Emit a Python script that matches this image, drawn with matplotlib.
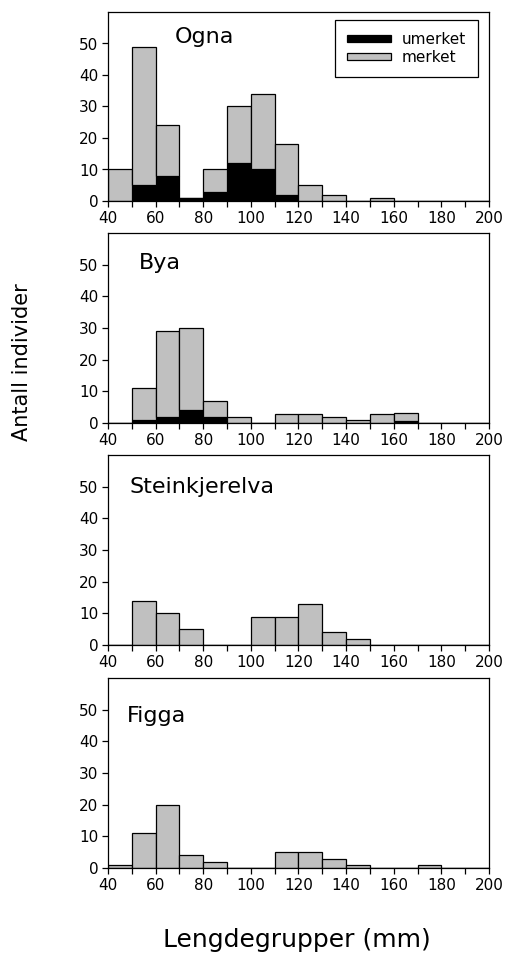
import numpy as np
import matplotlib
matplotlib.use('Agg')
import matplotlib.pyplot as plt

# --- DATA ---
bin_left = [40, 50, 60, 70, 80, 90, 100, 110, 120, 130, 140, 150, 160, 170, 180, 190]
sites = ['Ogna', 'Bya', 'Steinkjerelva', 'Figga']

# total per length group (umerket + merket)
ogna_total = [10, 49, 24, 1, 10, 30, 34, 18, 5, 2, 0, 1, 0, 0, 0, 0]
ogna_umerket = [0, 5, 8, 1, 3, 12, 10, 2, 0, 0, 0, 0, 0, 0, 0, 0]
bya_total = [0, 11, 29, 30, 7, 2, 0, 3, 3, 2, 1, 3, 3, 0, 0, 0]
bya_umerket = [0, 1, 2, 4, 2, 0, 0, 0, 0, 0, 0, 0, 0.7, 0, 0, 0]
steink_total = [0, 14, 10, 5, 0, 0, 9, 9, 13, 4, 2, 0, 0, 0, 0, 0]
steink_umerket = [0] * 16
figga_total = [1, 11, 20, 4, 2, 0, 0, 5, 5, 3, 1, 0, 0, 1, 0, 0]
figga_umerket = [0] * 16

totals = [ogna_total, bya_total, steink_total, figga_total]
umerket = [ogna_umerket, bya_umerket, steink_umerket, figga_umerket]

# --- LAYOUT ---
plt.rcParams['font.family'] = ['DejaVu Sans']
fig = plt.figure(figsize=(5.07, 9.55), dpi=100)

W, H = 507, 955
ax_left, ax_right = 108, 489
panel_px = [(12, 201), (233, 423), (455, 645), (678, 868)]  # top, bottom in pixels
label_x = [68, 53, 49, 48]
label_y = [52, 50.5, 50, 48]

GRAY = '#c0c0c0'

for i, site in enumerate(sites):
    top, bot = panel_px[i]
    ax = fig.add_axes([ax_left / W, 1 - bot / H, (ax_right - ax_left) / W, (bot - top) / H])
    tot = np.array(totals[i], dtype=float)
    um = np.array(umerket[i], dtype=float)
    me = tot - um
    ax.bar(bin_left, um, width=10, align='edge', color='black', edgecolor='black',
           linewidth=0.9, label='umerket')
    ax.bar(bin_left, me, bottom=um, width=10, align='edge', color=GRAY,
           edgecolor='black', linewidth=0.9, label='merket')
    ax.set_xlim(40, 200)
    ax.set_ylim(0, 60)
    ax.set_yticks([0, 10, 20, 30, 40, 50])
    ax.set_xticks(range(40, 201, 20))
    ax.set_xticks(range(40, 201, 10), minor=True)
    ax.tick_params(axis='both', direction='out', labelsize=11, length=4, width=0.9, pad=3)
    ax.tick_params(axis='x', which='minor', direction='out', length=4, width=0.9)
    for s in ax.spines.values():
        s.set_linewidth(0.9)
    ax.text(label_x[i], label_y[i], site, fontsize=16, va='center', ha='left')

    if i == 0:
        leg = ax.legend(loc='upper right', bbox_to_anchor=(0.972, 0.96), fontsize=11,
                        fancybox=False, edgecolor='black', framealpha=1,
                        handlelength=2.9, handleheight=0.35, borderpad=0.8,
                        labelspacing=0.2, handletextpad=0.7, borderaxespad=0)
        leg.get_frame().set_linewidth(0.9)

fig.text(22 / W, 1 - 362 / H, 'Antall individer', rotation=90, fontsize=15,
         ha='center', va='center')
fig.text(297 / W, 1 - 940 / H, 'Lengdegrupper (mm)', fontsize=18,
         ha='center', va='center')

fig.savefig('out.png', dpi=100)
